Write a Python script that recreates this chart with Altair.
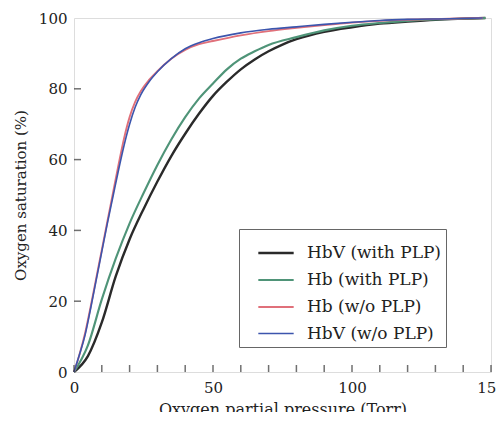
import altair as alt
import pandas as pd

series_names = ["HbV (with PLP)", "Hb (with PLP)", "Hb (w/o PLP)", "HbV (w/o PLP)"]
series_colors = ["#2a2a2a", "#4f9478", "#e0707a", "#3c55ad"]
series_widths = [2.4, 1.6, 1.6, 1.6]

hbv_plp_x = [0, 5, 10, 15, 20, 25, 30, 35, 40, 45, 50, 55, 60, 65, 70, 75, 80, 90, 100, 110, 120, 130, 140, 148]
hbv_plp_y = [0, 4.5, 14, 27, 37.5, 46, 53.8, 61, 67.3, 73, 78, 82, 85.5, 88.3, 90.6, 92.5, 94, 96.1, 97.4, 98.4, 99, 99.5, 99.8, 100]

hb_plp_x = [0, 5, 10, 15, 20, 25, 30, 35, 40, 45, 50, 55, 60, 65, 70, 80, 90, 100, 110, 120, 130, 140, 148]
hb_plp_y = [0, 7.5, 20.5, 32, 42, 50.5, 58.5, 65.7, 72, 77.3, 81.5, 85.5, 88.5, 90.6, 92.4, 94.6, 96.5, 97.8, 98.6, 99.2, 99.6, 99.8, 100]

hb_noplp_x = [0, 2, 4, 6, 8, 10, 12, 14, 16, 18, 20, 22, 24, 27, 30, 35, 40, 45, 50, 60, 70, 80, 90, 100, 110, 120, 135, 147]
hb_noplp_y = [0, 5, 11, 18.5, 26.5, 34.5, 42.5, 50.5, 58.5, 66, 72, 76.3, 79.3, 82.5, 85, 88.5, 91, 92.6, 93.5, 95.1, 96.3, 97.2, 98, 98.7, 99.2, 99.5, 99.8, 100]

hbv_noplp_x = [0, 2, 4, 6, 8, 10, 12, 14, 16, 18, 20, 22, 24, 27, 30, 35, 40, 45, 50, 60, 70, 80, 90, 100, 110, 120, 135, 147]
hbv_noplp_y = [0, 5, 10.5, 18, 26, 34, 42, 49.5, 57, 64, 70, 74.8, 78.3, 82, 84.8, 88.5, 91.3, 93, 94.2, 95.8, 96.8, 97.5, 98.2, 98.8, 99.3, 99.6, 99.8, 100]

x_tick_values = [0, 10, 20, 30, 40, 50, 60, 70, 80, 90, 100, 110, 120, 130, 140, 150]
y_tick_values = [20, 40, 60, 80]
x_label_values = [0, 50, 100, 150]
y_label_values = [0, 20, 40, 60, 80, 100]

rows = []
for name, xs, ys in [
    (series_names[0], hbv_plp_x, hbv_plp_y),
    (series_names[1], hb_plp_x, hb_plp_y),
    (series_names[2], hb_noplp_x, hb_noplp_y),
    (series_names[3], hbv_noplp_x, hbv_noplp_y),
]:
    for i, (a, b) in enumerate(zip(xs, ys)):
        rows.append({"P": a, "S": b, "series": name, "i": i})
df = pd.DataFrame(rows)

FONT = "DejaVu Serif"

xscale = alt.Scale(domain=[0, 150], nice=False)
yscale = alt.Scale(domain=[0, 100], nice=False)

lines = alt.Chart(df).mark_line(interpolate="monotone").encode(
    x=alt.X("P:Q", scale=xscale, title="Oxygen partial pressure (Torr)",
            axis=alt.Axis(values=x_label_values, ticks=False, domain=False, grid=False,
                          labelFont=FONT, labelFontSize=15, labelPadding=8, labelColor="#222",
                          titleFont=FONT, titleFontSize=16, titleFontWeight="normal",
                          titlePadding=6, titleColor="#222", labelFlush=False)),
    y=alt.Y("S:Q", scale=yscale, title="Oxygen saturation (%)",
            axis=alt.Axis(values=y_label_values, ticks=False, domain=False, grid=False,
                          labelFont=FONT, labelFontSize=15, labelPadding=7, labelColor="#222",
                          titleFont=FONT, titleFontSize=15, titleFontWeight="normal",
                          titlePadding=10, titleColor="#222", labelFlush=False)),
    color=alt.Color("series:N", scale=alt.Scale(domain=series_names, range=series_colors),
                    sort=series_names, title=None,
                    legend=alt.Legend(orient="none", legendX=165, legendY=211,
                                      symbolType="stroke", symbolSize=1250,
                                      labelFont=FONT, labelFontSize=17, labelColor="#222",
                                      strokeColor="#666", padding=5, symbolOffset=13,
                                      fillColor="white", rowPadding=-6, labelOffset=12)),
    strokeWidth=alt.StrokeWidth("series:N", scale=alt.Scale(domain=series_names, range=series_widths),
                                sort=series_names, title=None),
    order="i:Q",
)

xticks_df = pd.DataFrame({"t": x_tick_values})
yticks_df = pd.DataFrame({"t": y_tick_values})

xticks = alt.Chart(xticks_df).mark_tick(orient="vertical", size=7, thickness=1.5, yOffset=-3.5, color="#333").encode(
    x=alt.X("t:Q", scale=xscale),
    y=alt.datum(0),
)
yticks = alt.Chart(yticks_df).mark_tick(orient="horizontal", size=7, thickness=1.5, xOffset=3.5, color="#333").encode(
    y=alt.Y("t:Q", scale=yscale),
    x=alt.datum(0),
)

chart = alt.layer(lines, xticks, yticks).properties(
    width=417, height=354,
    autosize=alt.AutoSizeParams(type="none"),
    padding={"left": 66, "top": 10, "right": 5, "bottom": 40},
).configure_view(stroke="#333", strokeWidth=2).configure(background="white", font=FONT)

chart.save("out.html", embed_options={"renderer": "svg", "actions": False})
